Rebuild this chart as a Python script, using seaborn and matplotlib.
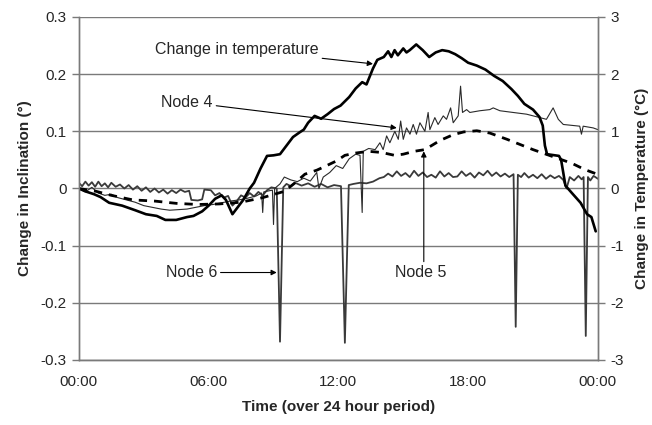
import numpy as np
import pandas as pd
import matplotlib
matplotlib.use('Agg')
import matplotlib.pyplot as plt
import seaborn as sns

sns.set_style('white')
plt.rcParams['font.family'] = ['Liberation Sans', 'DejaVu Sans']
plt.rcParams['font.size'] = 11

# temperature change (deg C), right axis
temp_t = [0.0, 0.3, 0.7, 1.0, 1.4, 2.0, 2.6, 3.1, 3.6, 4.0, 4.5, 5.0, 5.3, 5.7, 6.0, 6.3,
          6.6, 6.8, 7.1, 7.4, 7.6, 7.9, 8.1, 8.4, 8.7, 9.0, 9.3, 9.6, 9.9, 10.2, 10.4, 10.6,
          10.9, 11.2, 11.5, 11.8, 12.1, 12.5, 12.8, 13.1, 13.3, 13.6, 13.8, 14.1, 14.3,
          14.45, 14.6, 14.75, 15.0, 15.15, 15.3, 15.6, 15.9, 16.2, 16.5, 16.8, 17.1, 17.4,
          17.7, 18.0, 18.4, 18.8, 19.2, 19.6, 20.0, 20.3, 20.6, 21.0, 21.3, 21.45, 21.55,
          21.65, 22.2, 22.3, 22.5, 22.8, 23.2, 23.5, 23.7, 23.9]
temp_c = [0.0, -0.05, -0.1, -0.15, -0.25, -0.3, -0.38, -0.45, -0.48, -0.55, -0.55, -0.5,
          -0.48, -0.4, -0.3, -0.18, -0.12, -0.2, -0.45, -0.3, -0.2, 0.0, 0.1, 0.35, 0.57,
          0.58, 0.6, 0.75, 0.9, 0.98, 1.03, 1.15, 1.27, 1.22, 1.3, 1.39, 1.45, 1.6, 1.75,
          1.86, 1.82, 2.1, 2.25, 2.3, 2.4, 2.3, 2.42, 2.33, 2.45, 2.38, 2.42, 2.52, 2.42,
          2.3, 2.38, 2.42, 2.4, 2.35, 2.28, 2.2, 2.15, 2.08, 1.97, 1.88, 1.74, 1.62, 1.48,
          1.38, 1.25, 1.1, 0.75, 0.6, 0.57, 0.5, 0.05, -0.08, -0.25, -0.45, -0.5, -0.75]

# node 4 inclination change (deg)
node4_t = [0.0, 0.3, 0.6, 0.9, 1.2, 1.5, 1.8, 2.2, 2.6, 3.0, 3.4, 3.8, 4.2, 4.6, 5.0, 5.4,
           5.8, 6.2, 6.6, 7.0, 7.4, 7.8, 8.2, 8.45, 8.5, 8.55, 8.8, 8.95, 9.0, 9.05, 9.3,
           9.5, 9.8, 10.1, 10.4, 10.7, 11.0, 11.1, 11.3, 11.6, 11.9, 12.2, 12.5, 12.8, 13.0,
           13.1, 13.15, 13.4, 13.7, 13.92, 14.07, 14.23, 14.38, 14.61, 14.77, 14.88, 15.0,
           15.15, 15.31, 15.46, 15.61, 15.77, 16.0, 16.15, 16.23, 16.46, 16.61, 16.85, 17.0,
           17.19, 17.31, 17.54, 17.65, 17.74, 17.93, 18.08, 18.54, 19.0, 19.16, 19.47, 20.08,
           20.7, 21.32, 21.62, 21.93, 22.17, 22.4, 23.16, 23.24, 23.32, 23.78, 24.0]
node4_v = [0.0, -0.006, 0.002, -0.008, -0.012, -0.01, -0.016, -0.02, -0.024, -0.03, -0.033,
           -0.036, -0.038, -0.037, -0.036, -0.033, -0.03, -0.028, -0.025, -0.022, -0.02,
           -0.017, -0.013, -0.008, -0.042, -0.006, -0.004, -0.003, -0.063, 0.0, 0.008, 0.02,
           0.015, 0.012, 0.018, 0.013, 0.028, 0.0, 0.02, 0.028, 0.04, 0.035, 0.052, 0.06,
           0.058, -0.042, 0.065, 0.07, 0.068, 0.08, 0.068, 0.092, 0.08, 0.1, 0.086, 0.118,
           0.086, 0.106, 0.095, 0.112, 0.095, 0.115, 0.1, 0.133, 0.103, 0.124, 0.112, 0.127,
           0.121, 0.141, 0.115, 0.127, 0.179, 0.133, 0.138, 0.133, 0.136, 0.138, 0.141,
           0.136, 0.133, 0.13, 0.124, 0.121, 0.141, 0.121, 0.112, 0.109, 0.095, 0.109,
           0.106, 0.103]

# node 5 inclination change (deg)
node5_t = [0.0, 0.8, 1.5, 2.5, 3.5, 4.5, 5.5, 6.5, 7.5, 8.5, 9.5, 10.0, 10.45, 11.0, 11.4,
           11.9, 12.3, 12.8, 13.4, 14.0, 14.6, 15.0, 15.5, 16.0, 16.7, 17.3, 17.8, 18.4,
           19.0, 19.8, 20.4, 21.0, 21.6, 22.2, 22.8, 23.4, 23.9]
node5_v = [0.0, -0.005, -0.012, -0.02, -0.022, -0.026, -0.028, -0.027, -0.024, -0.016,
           -0.005, 0.01, 0.025, 0.032, 0.039, 0.048, 0.058, 0.062, 0.065, 0.063, 0.058,
           0.06, 0.065, 0.068, 0.084, 0.094, 0.099, 0.101, 0.097, 0.086, 0.077, 0.068,
           0.06, 0.052, 0.044, 0.033, 0.026]

# node 6 inclination change (deg)
node6_t = [0.0, 0.15, 0.3, 0.45, 0.6, 0.75, 0.9, 1.05, 1.2, 1.35, 1.5, 1.7, 1.9, 2.1, 2.3,
           2.5, 2.7, 2.9, 3.1, 3.3, 3.5, 3.7, 3.9, 4.1, 4.3, 4.5, 4.7, 4.9, 5.1, 5.2, 5.5,
           5.7, 5.8, 6.1, 6.3, 6.5, 6.7, 6.9, 7.1, 7.3, 7.5, 7.7, 7.9, 8.1, 8.3, 8.5, 8.7,
           8.9, 9.15, 9.3, 9.45, 9.6, 9.8, 10.0, 10.3, 10.6, 10.9, 11.2, 11.5, 11.8, 12.12,
           12.3, 12.48, 12.7, 13.0, 13.3, 13.6, 13.9, 14.1, 14.3, 14.5, 14.7, 14.9, 15.1,
           15.3, 15.5, 15.7, 15.9, 16.1, 16.3, 16.5, 16.7, 16.9, 17.1, 17.3, 17.5, 17.7,
           17.9, 18.1, 18.3, 18.5, 18.7, 18.9, 19.1, 19.3, 19.5, 19.7, 19.9, 20.1, 20.2,
           20.3, 20.45, 20.6, 20.8, 21.0, 21.2, 21.4, 21.6, 21.8, 22.0, 22.2, 22.4, 22.55,
           22.7, 22.9, 23.1, 23.25, 23.34, 23.44, 23.54, 23.65, 23.8, 24.0]
node6_v = [0.01, 0.004, 0.012, 0.005, 0.011, 0.003, 0.012, 0.004, 0.009, 0.002, 0.01, 0.003,
           0.007, 0.0, 0.006, -0.002, 0.004, -0.004, 0.002, -0.006, 0.0, -0.007, -0.002,
           -0.009, -0.003, -0.008, -0.002, -0.006, -0.004, -0.02, -0.021, -0.019, -0.002,
           -0.003, -0.012, -0.008, -0.016, -0.013, -0.03, -0.022, -0.012, -0.016, -0.008,
           -0.014, -0.006, -0.012, -0.003, 0.002, 0.0, -0.268, 0.002, 0.008, 0.004, 0.01,
           0.005, 0.009, 0.003, 0.008, 0.002, 0.006, 0.004, -0.27, 0.006, 0.008, 0.01, 0.009,
           0.012, 0.018, 0.02, 0.026, 0.021, 0.03, 0.022, 0.027, 0.02, 0.031, 0.022, 0.028,
           0.02, 0.024, 0.019, 0.03, 0.021, 0.027, 0.02, 0.021, 0.03, 0.022, 0.027, 0.019,
           0.028, 0.023, 0.031, 0.022, 0.028, 0.021, 0.026, 0.02, 0.025, -0.242, 0.024, 0.02,
           0.027, 0.019, 0.024, 0.018, 0.025, 0.017, 0.023, 0.018, 0.022, 0.015, 0.0, 0.02,
           0.014, 0.022, 0.016, 0.02, -0.258, 0.02, 0.014, 0.022, 0.017]

x_ticks = [0, 6, 12, 18, 24]
x_labels = ['00:00', '06:00', '12:00', '18:00', '00:00']
y_ticks = [-0.3, -0.2, -0.1, 0, 0.1, 0.2, 0.3]
y_labels = ['-0.3', '-0.2', '-0.1', '0', '0.1', '0.2', '0.3']
t_ticks = [-3, -2, -1, 0, 1, 2, 3]

fig, ax = plt.subplots(figsize=(6.52, 4.25), dpi=100)
fig.subplots_adjust(left=0.121, right=0.917, top=0.96, bottom=0.153)

for y in y_ticks:
    ax.axhline(y, color='#7a7a7a', lw=1.0, zorder=0)

sns.lineplot(x=node6_t, y=node6_v, ax=ax, color='#3a3a3a', lw=1.3, sort=False)
sns.lineplot(x=node4_t, y=node4_v, ax=ax, color='#2a2a2a', lw=0.8, sort=False)
sns.lineplot(x=node5_t, y=node5_v, ax=ax, color='black', lw=2.0, sort=False,
             linestyle=(0, (3, 2.5)))

ax.set_xlim(0, 24)
ax.set_ylim(-0.3, 0.3)
ax.set_xticks(x_ticks)
ax.set_xticklabels(x_labels)
ax.set_yticks(y_ticks)
ax.set_yticklabels(y_labels)
ax.tick_params(axis='both', direction='out', length=5, width=1, color='#7a7a7a',
               labelsize=11, pad=4)
ax.tick_params(axis='x', pad=6)
ax.set_xlabel('Time (over 24 hour period)', fontweight='bold', fontsize=11, labelpad=8)
ax.set_ylabel('Change in Inclination (°)', fontweight='bold', fontsize=11, labelpad=6)

ax2 = ax.twinx()
sns.lineplot(x=temp_t, y=temp_c, ax=ax2, color='black', lw=1.9, sort=False)
ax2.set_ylim(-3, 3)
ax2.set_yticks(t_ticks)
ax2.set_yticklabels([str(v) for v in t_ticks])
ax2.tick_params(axis='y', direction='out', length=5, width=1, color='#7a7a7a',
                labelsize=11, pad=4)
ax2.set_ylabel('Change in Temperature (°C)', fontweight='bold', fontsize=11, labelpad=8)

for a in (ax, ax2):
    for side in ['left', 'right', 'bottom']:
        a.spines[side].set_color('#7a7a7a')
        a.spines[side].set_linewidth(1.0)
    a.spines['top'].set_visible(False)

arrow = dict(arrowstyle='-|>', color='black', lw=0.8, mutation_scale=8, shrinkA=0, shrinkB=0)
ax.annotate('Change in temperature', xy=(13.6, 0.218), xytext=(11.1, 0.244),
            fontsize=11.5, ha='right', va='center', arrowprops=arrow)
ax.annotate('Node 4', xy=(14.7, 0.106), xytext=(6.2, 0.151),
            fontsize=11.5, ha='right', va='center', arrowprops=arrow)
ax.annotate('Node 6', xy=(9.15, -0.147), xytext=(6.4, -0.147),
            fontsize=11.5, ha='right', va='center', arrowprops=arrow)
ax.annotate('', xy=(15.95, 0.065), xytext=(15.95, -0.128), arrowprops=arrow)
ax.text(15.8, -0.147, 'Node 5', fontsize=11.5, ha='center', va='center')

plt.savefig('out.png', dpi=100)
